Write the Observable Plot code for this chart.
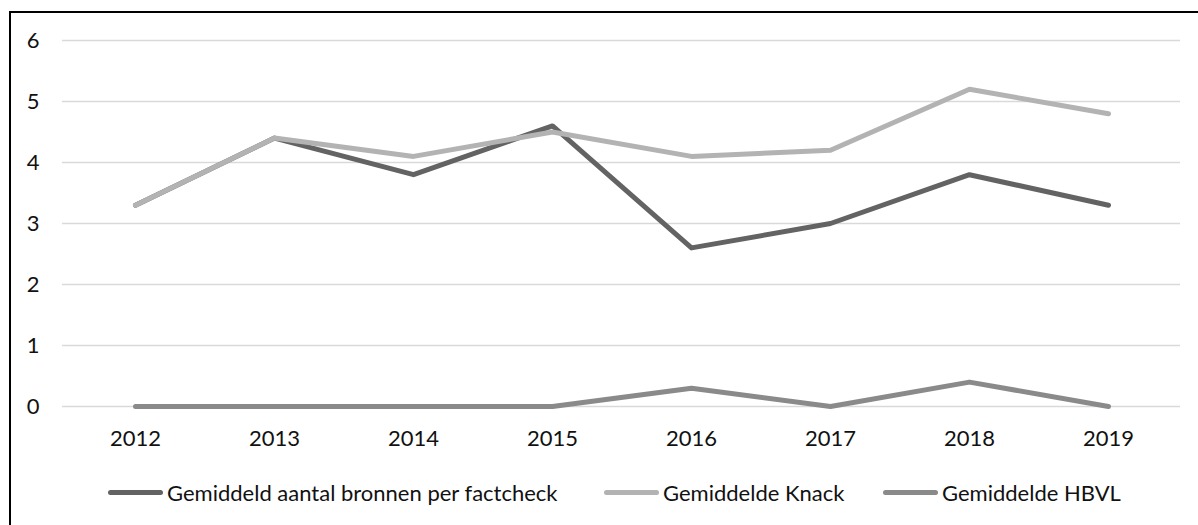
<!DOCTYPE html>
<html>
<head>
<meta charset="utf-8">
<script src="https://cdn.jsdelivr.net/npm/d3@7"></script>
<script src="https://cdn.jsdelivr.net/npm/@observablehq/plot@0.6"></script>
<style>
  html, body { margin: 0; padding: 0; background: #fff; width: 1198px; height: 525px; overflow: hidden; }
  body { position: relative; font-family: Lato, "Open Sans", sans-serif; }
  #frame { position: absolute; left: 9px; top: 11px; width: 1300px; height: 600px; border-left: 2px solid #000; border-top: 2px solid #000; box-sizing: border-box; }
  #chart { position: absolute; left: 0; top: 0; }
  #legend { position: absolute; left: 0; top: 478px; width: 1198px; height: 28px; font-size: 22px; color: #111; white-space: nowrap; }
  .item { position: absolute; top: 0; display: flex; align-items: center; height: 28px; }
  .swatch { width: 55px; height: 5px; border-radius: 3px; margin-right: 4px; }
</style>
</head>
<body>
<div id="frame"></div>
<div id="chart"></div>
<div id="legend"></div>
<script>
const years = ["2012", "2013", "2014", "2015", "2016", "2017", "2018", "2019"];
const seriesNames = ["Gemiddeld aantal bronnen per factcheck", "Gemiddelde Knack", "Gemiddelde HBVL"];
const factcheck = [3.3, 4.4, 3.8, 4.6, 2.6, 3.0, 3.8, 3.3];
const knack = [3.3, 4.4, 4.1, 4.5, 4.1, 4.2, 5.2, 4.8];
const hbvl = [0, 0, 0, 0, 0.3, 0, 0.4, 0];
const yTicks = [0, 1, 2, 3, 4, 5, 6];
const colors = ["#636363", "#b3b3b3", "#8a8a8a"];

const allValues = [factcheck, knack, hbvl];
const data = [];
allValues.forEach((vals, s) => {
  vals.forEach((v, i) => data.push({year: years[i], value: v, series: seriesNames[s]}));
});

const plot = Plot.plot({
  width: 1198,
  height: 460,
  marginLeft: 62,
  marginRight: 18,
  marginTop: 40,
  marginBottom: 54,
  style: { fontFamily: "Lato, 'Open Sans', sans-serif", fontSize: "22px", color: "#111", background: "transparent" },
  x: { type: "point", domain: years, padding: 0.5, label: null },
  y: { domain: [0, 6], ticks: yTicks, label: null },
  color: { domain: seriesNames, range: colors },
  marks: [
    Plot.gridY(yTicks, { stroke: "#d9d9d9", strokeOpacity: 1, strokeWidth: 1.5 }),
    Plot.axisY(yTicks, { tickSize: 0, tickPadding: 23, fontSize: 22, label: null, tickFormat: d => String(d) }),
    Plot.axisX({ tickSize: 0, tickPadding: 24, fontSize: 22, label: null }),
    Plot.line(data, { x: "year", y: "value", z: "series", stroke: "series", strokeWidth: 5, strokeLinecap: "round", strokeLinejoin: "round" })
  ]
});
document.getElementById("chart").appendChild(plot);

const legend = document.getElementById("legend");
const lefts = [108, 604, 883];
seriesNames.forEach((name, i) => {
  const item = document.createElement("div");
  item.className = "item";
  item.style.left = lefts[i] + "px";
  const sw = document.createElement("div");
  sw.className = "swatch";
  sw.style.background = colors[i];
  const label = document.createElement("span");
  label.textContent = name;
  item.appendChild(sw);
  item.appendChild(label);
  legend.appendChild(item);
});
</script>
</body>
</html>
